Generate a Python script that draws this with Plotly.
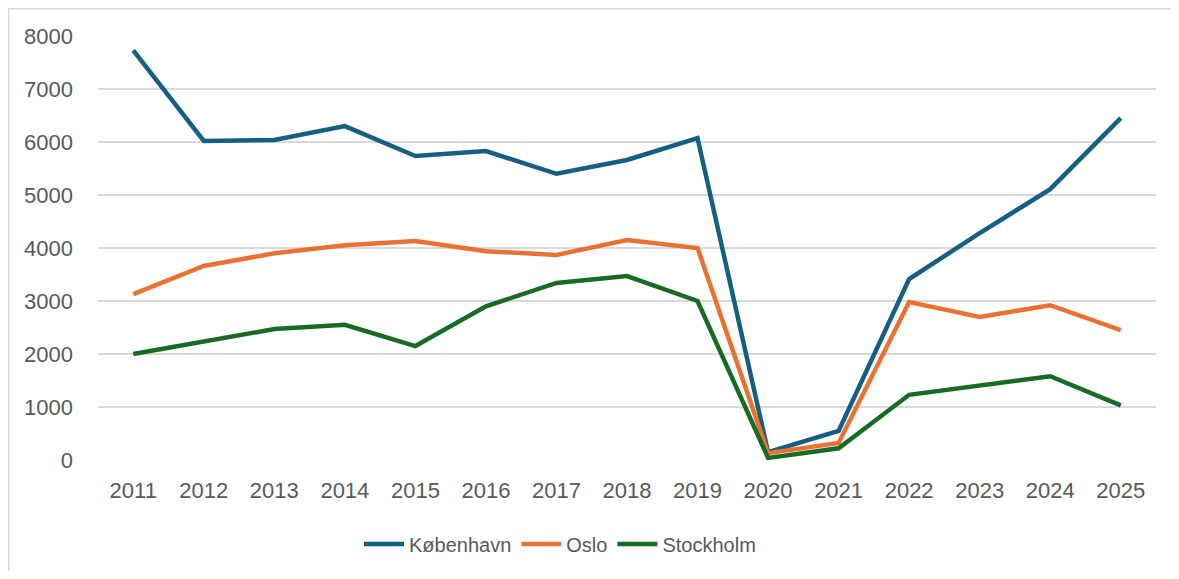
import plotly.graph_objects as go

years = [str(y) for y in range(2011, 2026)]
kobenhavn = [7730, 6020, 6040, 6300, 5735, 5830, 5400, 5660, 6075, 150, 550, 3415, 4280, 5110, 6450]
oslo = [3130, 3660, 3900, 4050, 4130, 3940, 3870, 4150, 4000, 130, 320, 2980, 2700, 2920, 2450]
stockholm = [2000, 2230, 2470, 2550, 2150, 2900, 3340, 3470, 3000, 40, 220, 1230, 1400, 1580, 1030]

series = [("København", kobenhavn, "#156082"), ("Oslo", oslo, "#E97132"), ("Stockholm", stockholm, "#196B24")]

fig = go.Figure()
for name, vals, col in series:
    fig.add_trace(go.Scatter(x=years, y=vals, name=name, mode="lines",
                             line=dict(color=col, width=4.5)))

# page body has an 8px margin; compensate so the plot area lands where it should
OFF = 8
W, H = 1179 - 2 * OFF, 579 - 2 * OFF
ml, mr, mt = 98 - OFF, 23 - OFF, 36 - OFF
ph = 424
mb = H - mt - ph
pw = W - ml - mr

fig.update_layout(
    width=W, height=H,
    margin=dict(l=ml, r=mr, t=mt, b=mb, autoexpand=False),
    paper_bgcolor="white", plot_bgcolor="white",
    font=dict(family="Liberation Sans, Arial", size=22, color="#595959"),
    showlegend=True,
    legend=dict(orientation="h", x=(560 - 98) / pw, xanchor="center", y=(460 - 544) / ph, yanchor="middle",
                font=dict(size=20, color="#595959"), itemwidth=40, tracegroupgap=0),
    xaxis=dict(type="category", range=[-0.5, len(years) - 0.5], showgrid=False, zeroline=False,
               showline=False, ticks="", ticklabelstandoff=15, automargin=False),
    yaxis=dict(range=[0, 8000], dtick=1000, showgrid=True, gridcolor="#d9d9d9", gridwidth=1.5,
               zeroline=False, showline=False, ticks="", ticklabelstandoff=24, automargin=False),
    shapes=[dict(type="rect", xref="paper", yref="paper",
                 x0=(0.75 - ml) / pw, x1=(W + 20 - ml) / pw,
                 y0=-(H + 20 - mt - ph) / ph - 0.1, y1=1 + (mt - 0.75) / ph,
                 line=dict(color="#d9d9d9", width=1.5), layer="below")],
)

fig.write_html("out.html")
